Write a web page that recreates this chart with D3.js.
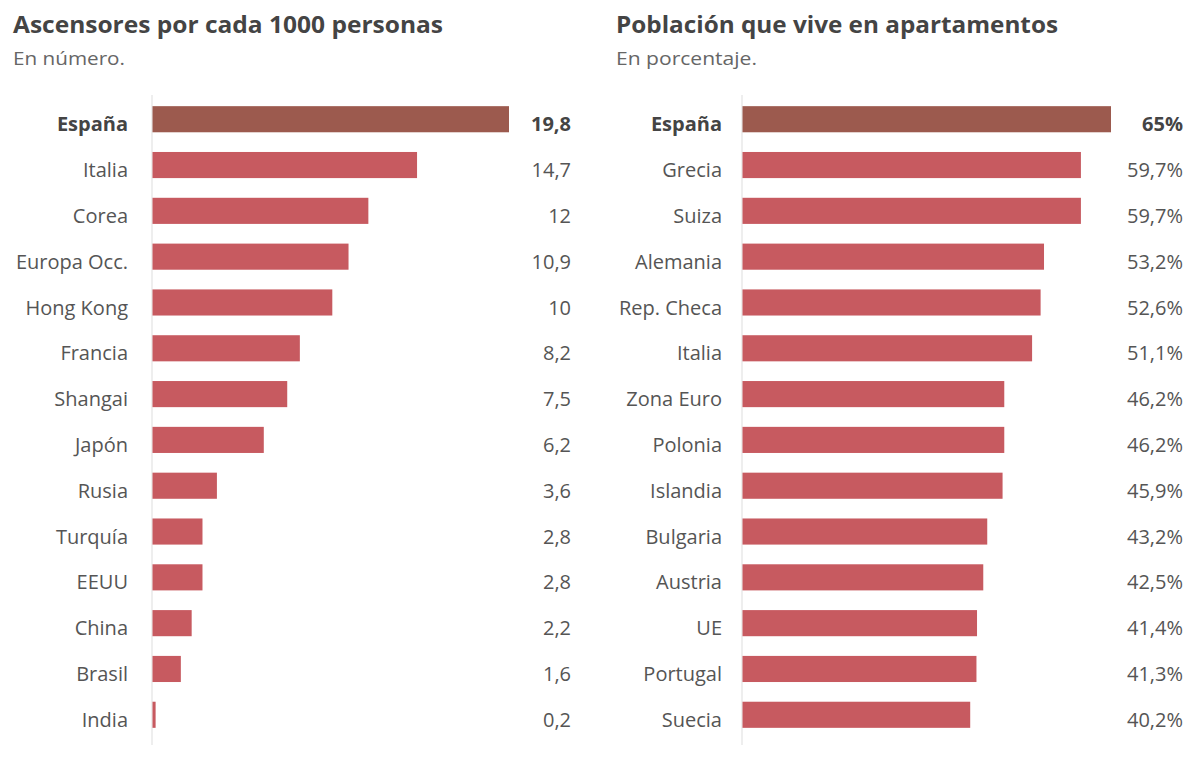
<!DOCTYPE html>
<html><head><meta charset="utf-8">
<script src="https://cdn.jsdelivr.net/npm/d3@7"></script>
<style>body{margin:0;background:#fff;} svg{display:block;}</style>
</head><body>
<svg id="c" width="1200" height="779"></svg>
<script>
const leftCategories = ["España","Italia","Corea","Europa Occ.","Hong Kong","Francia","Shangai","Japón","Rusia","Turquía","EEUU","China","Brasil","India"];
const leftValues = [19.8,14.7,12,10.9,10,8.2,7.5,6.2,3.6,2.8,2.8,2.2,1.6,0.2];
const leftLabels = ["19,8","14,7","12","10,9","10","8,2","7,5","6,2","3,6","2,8","2,8","2,2","1,6","0,2"];
const rightCategories = ["España","Grecia","Suiza","Alemania","Rep. Checa","Italia","Zona Euro","Polonia","Islandia","Bulgaria","Austria","UE","Portugal","Suecia"];
const rightValues = [65,59.7,59.7,53.2,52.6,51.1,46.2,46.2,45.9,43.2,42.5,41.4,41.3,40.2];
const rightLabels = ["65%","59,7%","59,7%","53,2%","52,6%","51,1%","46,2%","46,2%","45,9%","43,2%","42,5%","41,4%","41,3%","40,2%"];

const svg = d3.select("#c");
const FONT = "'Open Sans', sans-serif";

function panel(opts){
  const g = svg.append("g");
  g.append("text").attr("x", opts.tx).attr("y", 33).text(opts.title)
    .attr("font-family", FONT).attr("font-weight", 700).attr("font-size", 23.5).attr("fill", "#444")
    .attr("textLength", opts.titleW).attr("lengthAdjust","spacingAndGlyphs");
  g.append("text").attr("x", opts.tx).attr("y", 65).text(opts.subtitle)
    .attr("font-family", FONT).attr("font-size", 19).attr("fill", "#666")
    .attr("textLength", opts.subW).attr("lengthAdjust","spacingAndGlyphs");
  const x = d3.scaleLinear().domain([0, opts.max]).range([opts.x0, opts.x1]);
  const y = d3.scaleBand().domain(opts.cats).range([97, 737]).paddingInner(0.43).paddingOuter(0.2);
  g.append("line").attr("x1", opts.x0).attr("x2", opts.x0).attr("y1", 95).attr("y2", 745)
    .attr("stroke", "#ddd").attr("stroke-width", 1);
  g.selectAll("rect.bar").data(opts.vals).join("rect").attr("class","bar")
    .attr("x", opts.x0 + 0.5).attr("y", (d,i)=>y(opts.cats[i]))
    .attr("width", d=>x(d)-opts.x0-0.5).attr("height", y.bandwidth())
    .attr("fill", (d,i)=> i===0 ? "#9c5a4e" : "#c75a60");
  g.selectAll("text.cat").data(opts.cats).join("text").attr("class","cat")
    .attr("x", opts.labelX).attr("y", d=>y(d)+y.bandwidth()-1)
    .attr("text-anchor","end").attr("font-family", FONT).attr("font-size", 20)
    .attr("font-weight", (d,i)=> i===0 ? 700 : 400)
    .attr("fill", (d,i)=> i===0 ? "#444" : "#555").text(d=>d);
  g.selectAll("text.val").data(opts.labels).join("text").attr("class","val")
    .attr("x", opts.valX).attr("y", (d,i)=>y(opts.cats[i])+y.bandwidth()-1)
    .attr("text-anchor","end").attr("font-family", FONT).attr("font-size", 20)
    .attr("font-weight", (d,i)=> i===0 ? 700 : 400)
    .attr("fill", (d,i)=> i===0 ? "#444" : "#555").text(d=>d);
}

panel({title:"Ascensores por cada 1000 personas", subtitle:"En número.", tx:13, titleW:430, subW:112,
  cats:leftCategories, vals:leftValues, labels:leftLabels, max:19.8, x0:152, x1:509, labelX:128, valX:571});
panel({title:"Población que vive en apartamentos", subtitle:"En porcentaje.", tx:616, titleW:442, subW:141,
  cats:rightCategories, vals:rightValues, labels:rightLabels, max:65, x0:742, x1:1111, labelX:722, valX:1183});
</script>
</body></html>
